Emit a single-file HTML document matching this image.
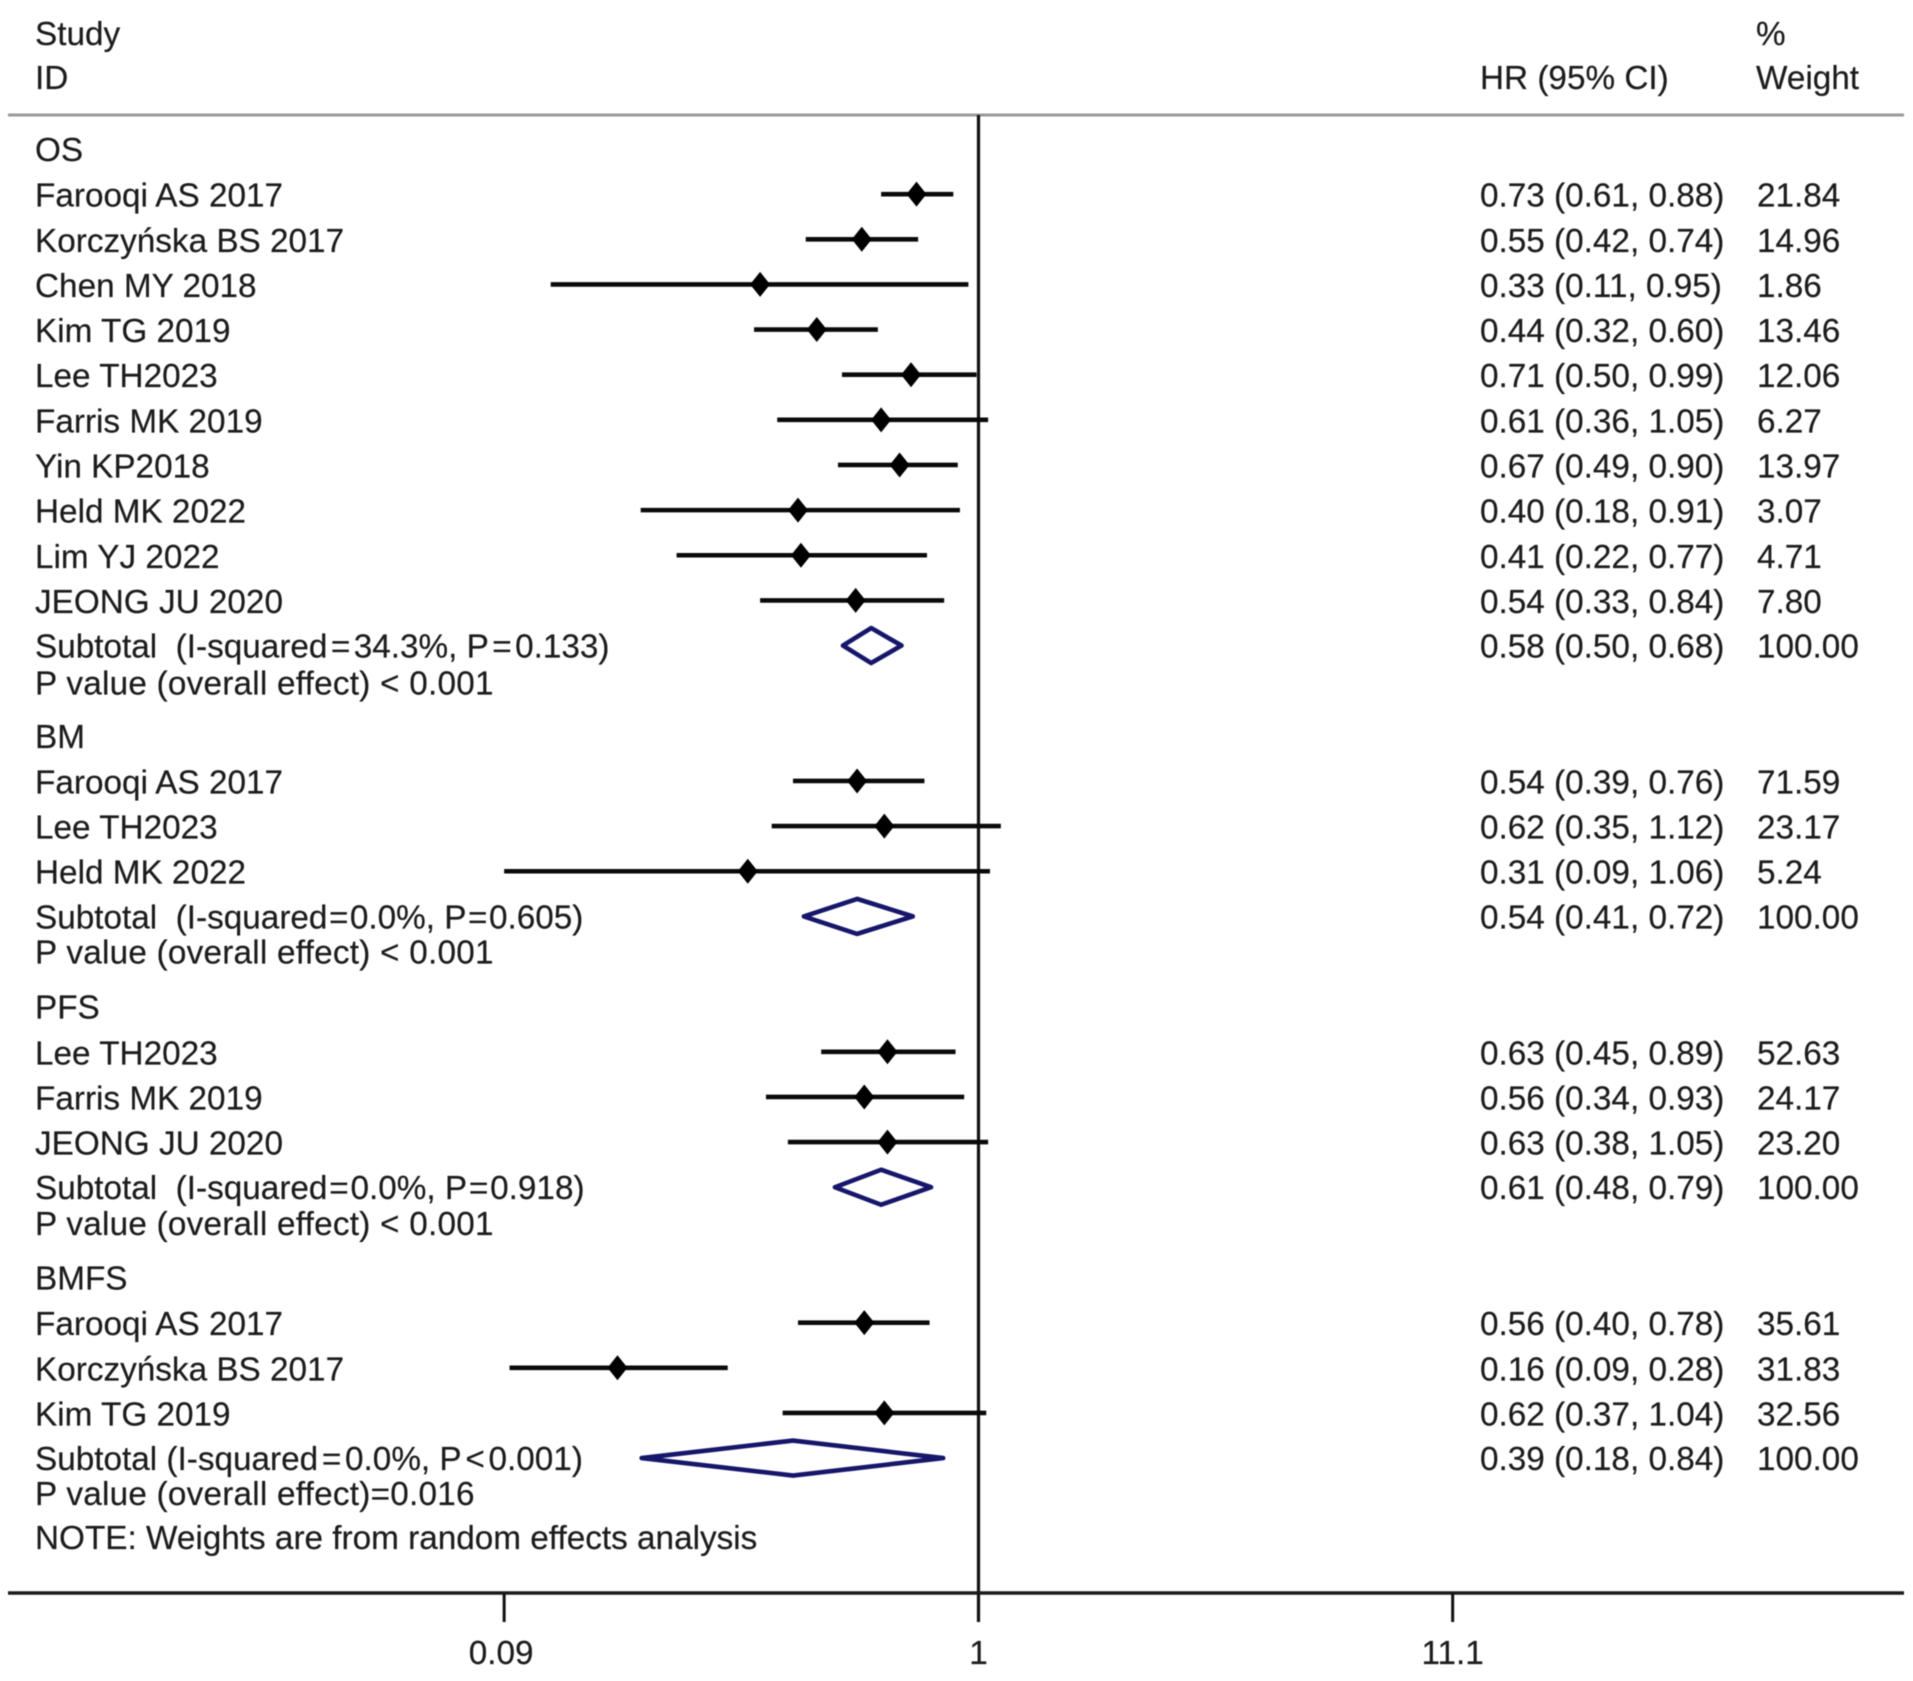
<!DOCTYPE html>
<html lang="en">
<head>
<meta charset="utf-8">
<title>Forest plot</title>
<style>
  html, body { margin: 0; padding: 0; background: #fff; }
  #forest-plot { display: block; filter: blur(0.55px); }
  text { font-family: "Liberation Sans", "DejaVu Sans", sans-serif; font-size: 33.3px; fill: #1c1c1c; stroke: #1c1c1c; stroke-width: 0.2px; white-space: pre; }
  .tracked { letter-spacing: 0.23px; }
</style>
</head>
<body>
<svg id="forest-plot" xmlns="http://www.w3.org/2000/svg" width="1913" height="1681" viewBox="0 0 1913 1681">
  <rect x="0" y="0" width="1913" height="1681" fill="#fff"/>
  <text x="35" y="45">Study</text>
  <text x="35" y="89">ID</text>
  <text x="1480" y="89">HR (95% CI)</text>
  <text x="1756" y="45">%</text>
  <text x="1756" y="89">Weight</text>
  <line x1="8" y1="115" x2="1904" y2="115" stroke="#9a9a9a" stroke-width="3"/>
  <g id="marks"></g>
  <text x="35" y="1549">NOTE: Weights are from random effects analysis</text>
</svg>
<script>
const groupNames = ['OS', 'BM', 'PFS', 'BMFS'];

const osStudies = ['Farooqi AS 2017', 'Korczyńska BS 2017', 'Chen MY 2018', 'Kim TG 2019', 'Lee TH2023', 'Farris MK 2019', 'Yin KP2018', 'Held MK 2022', 'Lim YJ 2022', 'JEONG JU 2020'];
const osHR = [0.73, 0.553, 0.33, 0.44, 0.71, 0.61, 0.67, 0.40, 0.406, 0.536];
const osLow = [0.61, 0.416, 0.114, 0.32, 0.50, 0.36, 0.49, 0.18, 0.216, 0.33];
const osHigh = [0.88, 0.736, 0.95, 0.60, 0.99, 1.05, 0.90, 0.91, 0.77, 0.84];
const osWeight = ['21.84', '14.96', '1.86', '13.46', '12.06', '6.27', '13.97', '3.07', '4.71', '7.80'];

const bmStudies = ['Farooqi AS 2017', 'Lee TH2023', 'Held MK 2022'];
const bmHR = [0.54, 0.62, 0.31];
const bmLow = [0.39, 0.35, 0.09];
const bmHigh = [0.76, 1.12, 1.06];
const bmWeight = ['71.59', '23.17', '5.24'];

const pfsStudies = ['Lee TH2023', 'Farris MK 2019', 'JEONG JU 2020'];
const pfsHR = [0.63, 0.56, 0.63];
const pfsLow = [0.45, 0.34, 0.38];
const pfsHigh = [0.89, 0.93, 1.05];
const pfsWeight = ['52.63', '24.17', '23.20'];

const bmfsStudies = ['Farooqi AS 2017', 'Korczyńska BS 2017', 'Kim TG 2019'];
const bmfsHR = [0.56, 0.16, 0.62];
const bmfsLow = [0.40, 0.0925, 0.37];
const bmfsHigh = [0.78, 0.28, 1.04];
const bmfsWeight = ['35.61', '31.83', '32.56'];

const subtotalLabels = ['Subtotal  (I-squared=34.3%, P=0.133)', 'Subtotal  (I-squared=0.0%, P=0.605)', 'Subtotal  (I-squared=0.0%, P=0.918)', 'Subtotal (I-squared=0.0%, P<0.001)'];
const subtotalHR = [0.58, 0.54, 0.61, 0.39];
const subtotalLow = [0.50, 0.41, 0.48, 0.18];
const subtotalHigh = [0.68, 0.72, 0.79, 0.84];
const overallLabels = ['P value (overall effect) < 0.001', 'P value (overall effect) < 0.001', 'P value (overall effect) < 0.001', 'P value (overall effect)=0.016'];

const tickValues = [0.09, 1, 11.1];
const tickLabels = ['0.09', '1', '11.1'];

const NS = 'http://www.w3.org/2000/svg';
const marks = document.getElementById('marks');

function xScale(hr) { return 978.5 + 197 * Math.log(hr); }
function rowY(index) { return 149 + 45.14 * index; }
function ciText(hr, low, high) { return hr.toFixed(2) + ' (' + low.toFixed(2) + ', ' + high.toFixed(2) + ')'; }

function addText(name, x, y, content, anchor) {
  const el = document.createElementNS(NS, 'text');
  
  
  el.setAttribute('x', x);
  el.setAttribute('y', y);
  if (anchor) el.setAttribute('text-anchor', anchor);
  el.textContent = content;
  marks.appendChild(el);
  return el;
}

function addSpacedOperators(el, content, gap) {
  el.textContent = '';
  content.split(/([=<])/).forEach(function (part, i) {
    const span = document.createElementNS(NS, 'tspan');
    if (i > 0) span.setAttribute('dx', gap);
    span.textContent = part;
    el.appendChild(span);
  });
}

function addLine(name, x1, y1, x2, y2, stroke, width) {
  const el = document.createElementNS(NS, 'line');
  
  
  el.setAttribute('x1', x1);
  el.setAttribute('y1', y1);
  el.setAttribute('x2', x2);
  el.setAttribute('y2', y2);
  el.setAttribute('stroke', stroke);
  el.setAttribute('stroke-width', width);
  marks.appendChild(el);
}

function addDiamond(name, xl, xm, xr, y, h, fill, stroke, width) {
  const el = document.createElementNS(NS, 'polygon');
  
  
  el.setAttribute('points', [xl + ',' + y, xm + ',' + (y - h), xr + ',' + y, xm + ',' + (y + h)].join(' '));
  el.setAttribute('fill', fill);
  el.setAttribute('stroke', stroke);
  el.setAttribute('stroke-width', width);
  el.setAttribute('stroke-linejoin', 'round');
  marks.appendChild(el);
}

const groups = [
  [osStudies, osHR, osLow, osHigh, osWeight],
  [bmStudies, bmHR, bmLow, bmHigh, bmWeight],
  [pfsStudies, pfsHR, pfsLow, pfsHigh, pfsWeight],
  [bmfsStudies, bmfsHR, bmfsLow, bmfsHigh, bmfsWeight]
];

const operatorGap = [3.4, 1.5, 1.8, 3.7];
const overallNudge = [49, 47, 48, 47];

// Reference line and x axis
addLine('null-line', xScale(1), 115, xScale(1), 1622, '#111', 3.2);
addLine('x-axis', 8, 1593, 1904, 1593, '#1c1c1c', 3.5);
tickValues.forEach(function (value, i) {
  addLine('x-tick-' + tickLabels[i], xScale(value), 1593, xScale(value), 1622, '#111', 3);
  addText('x-tick-label-' + tickLabels[i], xScale(value) - (value < 1 ? 3 : 0), 1664, tickLabels[i], 'middle');
});

// Rows
let row = 0;
groups.forEach(function (group, g) {
  const studies = group[0], hr = group[1], low = group[2], high = group[3], weight = group[4];
  addText('group-label-' + groupNames[g], 35, rowY(row) + 12, groupNames[g]);
  row += 1;
  studies.forEach(function (study, i) {
    const y = rowY(row);
    addText('study-label', 35, y + 12.5, study);
    addLine('ci-line', xScale(low[i]), y, xScale(high[i]), y, '#0a0a0a', 4.6);
    addDiamond('hr-marker', xScale(hr[i]) - 10, xScale(hr[i]), xScale(hr[i]) + 10, y, 12.5, '#000', 'none', 0);
    addText('hr-ci-value', 1480, y + 12.5, ciText(hr[i], low[i], high[i]));
    addText('weight-value', 1757, y + 12.5, weight[i]);
    row += 1;
  });
  const y = rowY(row);
  const subtotalText = addText('subtotal-label', 35, y + 12, subtotalLabels[g]);
  addSpacedOperators(subtotalText, subtotalLabels[g], operatorGap[g]);
  addDiamond('subtotal-diamond', xScale(subtotalLow[g]) + 1, xScale(subtotalHR[g]), xScale(subtotalHigh[g]) - 1, y, 17.5, 'none', '#16166b', 4.6);
  addText('subtotal-hr-ci', 1480, y + 12, ciText(subtotalHR[g], subtotalLow[g], subtotalHigh[g]));
  addText('subtotal-weight', 1757, y + 12, '100.00');
  const overallText = addText('overall-effect-label', 35, y + overallNudge[g], overallLabels[g]);
  overallText.setAttribute('class', 'tracked');
  row += 2;
});
</script>
</body>
</html>
